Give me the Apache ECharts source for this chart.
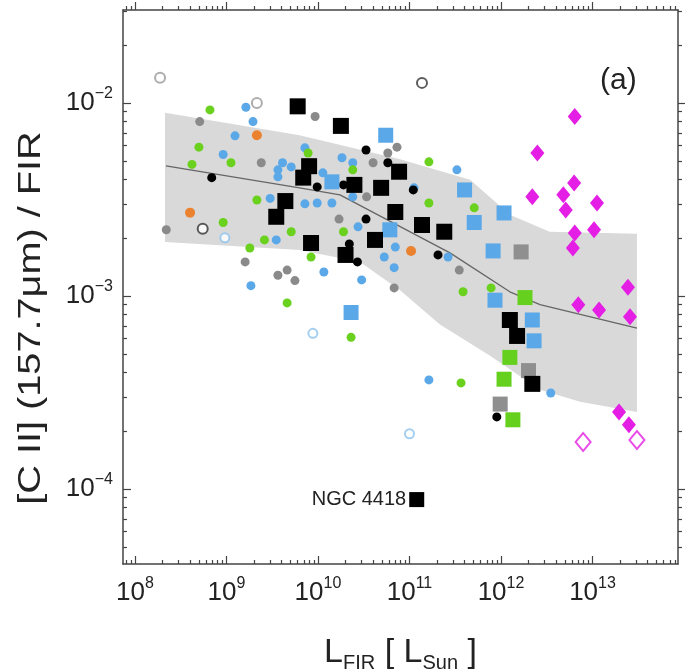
<!DOCTYPE html>
<html>
<head>
<meta charset="utf-8">
<script src="https://cdn.jsdelivr.net/npm/echarts@6/dist/echarts.min.js"></script>
<style>
  html, body { margin: 0; padding: 0; background: #fff; }
  #chart { width: 685px; height: 670px; }
</style>
</head>
<body>
<div id="chart"></div>
<script>
// axis ranges and tick labels
const xRange = [7.4e7, 8.6e13];
const yRange = [4.08e-5, 3.03e-2];
const xTicks = [1e8, 1e9, 1e10, 1e11, 1e12, 1e13];
const yTicks = [1e-4, 1e-3, 1e-2];

// [L_FIR, [CII]/FIR]
const blackSquares = [[6.0e9, 9.6e-3], [1.78e10, 7.6e-3], [8.0e9, 4.7e-3], [6.9e9, 4.1e-3], [4.4e9, 3.1e-3],
  [3.5e9, 2.57e-3], [8.4e9, 1.88e-3], [2.0e10, 1.63e-3], [4.2e10, 1.95e-3], [2.5e10, 3.76e-3], [4.9e10, 3.63e-3],
  [7.7e10, 4.4e-3], [7.0e10, 2.72e-3], [1.37e11, 2.33e-3], [2.4e11, 2.15e-3], [1.25e12, 7.5e-4], [1.5e12, 6.2e-4],
  [2.2e12, 3.5e-4]];
const ngc4418 = [[1.2e11, 8.8e-5]];
const blackDots = [[6.9e8, 4.1e-3], [3.35e10, 5.7e-3], [3.35e10, 2.5e-3], [2.7e10, 1.5e-3], [1.9e10, 3.76e-3],
  [9.8e9, 3.67e-3], [2.05e11, 1.63e-3], [1.1e11, 3.54e-3], [9.0e11, 2.36e-4], [2.2e10, 1.86e-3], [5.8e10, 4.9e-3]];
const graySquares = [[1.66e12, 1.69e-3], [9.8e11, 2.75e-4], [2.0e12, 4.1e-4]];
const grayDots = [[9.3e9, 8.5e-3], [5.8e10, 5.5e-3], [4.0e10, 4.9e-3], [7.3e10, 5.9e-3], [2.4e9, 4.9e-3],
  [2.2e8, 2.2e-3], [1.6e9, 1.5e-3], [3.65e9, 1.28e-3], [4.6e9, 1.36e-3], [5.6e9, 1.2e-3], [6.8e10, 1.1e-3],
  [1.7e10, 2.5e-3], [5.1e8, 8.0e-3], [3.4e10, 3.26e-3], [3.5e11, 1.36e-3]];
const blueSquares = [[5.5e10, 6.8e-3], [1.42e10, 3.9e-3], [4.0e11, 3.54e-3], [5.1e11, 2.4e-3], [1.08e12, 2.69e-3],
  [8.2e11, 1.71e-3], [8.6e11, 9.5e-4], [2.2e12, 7.5e-4], [2.3e12, 5.85e-4], [2.3e10, 8.2e-4], [6.1e10, 2.2e-3]];
const blueDots = [[1.63e9, 9.5e-3], [1.95e9, 8.0e-3], [1.24e9, 6.75e-3], [9.2e8, 5.4e-3], [3.65e9, 4.5e-3],
  [4.1e9, 4.9e-3], [3.0e9, 3.2e-3], [3.5e9, 1.95e-3], [7.2e9, 3.0e-3], [9.8e9, 3.03e-3], [1.42e10, 3.03e-3],
  [1.83e10, 5.2e-3], [2.4e10, 4.9e-3], [2.4e10, 3.26e-3], [1.13e10, 4.34e-3], [2.74e10, 2.28e-3], [1.12e11, 3.63e-3],
  [3.3e11, 4.5e-3], [2.64e11, 1.59e-3], [5.3e10, 1.59e-3], [7.0e10, 1.79e-3], [1.16e10, 1.33e-3], [3.0e10, 1.21e-3],
  [6.8e10, 1.4e-3], [1.85e9, 1.13e-3], [1.63e11, 3.67e-4], [3.5e12, 3.14e-4], [7.2e9, 5.85e-3], [5.1e9, 4.66e-3],
  [3.65e9, 4.14e-3]];
const greenSquares = [[1.83e12, 9.8e-4], [1.25e12, 4.8e-4], [1.08e12, 3.7e-4], [1.35e12, 2.28e-4]];
const greenDots = [[6.6e8, 9.2e-3], [5.0e8, 5.9e-3], [4.2e8, 4.8e-3], [1.12e9, 4.9e-3], [7.8e9, 5.5e-3],
  [2.4e10, 4.5e-3], [2.15e9, 3.14e-3], [9.2e8, 2.4e-3], [5.1e9, 2.15e-3], [2.6e9, 1.95e-3], [1.8e9, 1.77e-3],
  [8.4e9, 1.59e-3], [1.9e10, 2.15e-3], [4.6e9, 9.2e-4], [2.3e10, 6.1e-4], [1.63e11, 4.95e-3], [5.1e11, 2.86e-3],
  [1.63e11, 3.03e-3], [3.85e11, 1.05e-3], [7.8e11, 1.1e-3], [3.66e11, 3.54e-4]];
const orangeDots = [[2.15e9, 6.8e-3], [4.0e8, 2.7e-3], [1.04e11, 1.71e-3]];
const openGray = [[1.88e8, 1.35e-2], [2.15e9, 1.0e-2]];
const openBlack = [[1.37e11, 1.27e-2], [5.5e8, 2.23e-3]];
const openBlue = [[9.6e8, 2.0e-3], [8.8e9, 6.4e-4], [1.0e11, 1.93e-4]];
const magentaDiamonds = [[6.4e12, 8.5e-3], [2.5e12, 5.5e-3], [6.3e12, 3.85e-3], [2.2e12, 3.26e-3], [4.8e12, 3.34e-3],
  [1.12e13, 3.03e-3], [5.1e12, 2.79e-3], [6.4e12, 2.12e-3], [1.04e13, 2.2e-3], [6.1e12, 1.77e-3], [2.44e13, 1.11e-3],
  [7.0e12, 9.0e-4], [1.18e13, 8.45e-4], [2.57e13, 7.8e-4], [1.95e13, 2.5e-4], [2.5e13, 2.15e-4]];
const openDiamonds = [[7.9e12, 1.75e-4], [3.06e13, 1.79e-4]];

// shaded band and fit
const bandUpper = [[2.13e8, 8.9e-3], [6.3e9, 6.8e-3], [7.9e10, 5.1e-3], [4.6e11, 4.0e-3], [1.25e12, 2.63e-3],
  [3.4e12, 2.15e-3], [3.06e13, 2.1e-3]];
const bandLower = [[2.13e8, 1.9e-3], [6.3e9, 1.73e-3], [2.88e10, 1.5e-3], [7.9e10, 1.07e-3], [2.15e11, 7.1e-4],
  [7.6e11, 4.9e-4], [2.67e12, 3.26e-4], [7.3e12, 2.83e-4], [3.06e13, 2.5e-4]];
const fitLine = [[2.18e8, 4.72e-3], [6.3e9, 3.63e-3], [1.74e10, 3.34e-3], [2.77e11, 1.67e-3], [1.25e12, 1.05e-3],
  [2.67e12, 9.0e-4], [3.06e13, 6.8e-4]];

const font = 'Liberation Sans, Arial, Helvetica, sans-serif';
const ink = '#222';
const frame = '#444';

function minorValues(range) {
  const out = [];
  const e0 = Math.floor(Math.log10(range[0]));
  const e1 = Math.ceil(Math.log10(range[1]));
  for (let e = e0; e <= e1; e++) {
    for (let m = 2; m <= 9; m++) {
      const v = m * Math.pow(10, e);
      if (v > range[0] && v < range[1]) out.push(v);
    }
  }
  return out;
}

function powLabel(v) {
  const e = Math.round(Math.log10(v));
  return '{b|10}{s|' + (e < 0 ? '\u2212' + (-e) : e) + '}';
}

const labelRich = {
  b: { fontSize: 26, fontFamily: font, color: ink, lineHeight: 34 },
  s: { fontSize: 16, fontFamily: font, color: ink, verticalAlign: 'top', lineHeight: 16 }
};

// one axis per side and tick size: major ticks (with line/labels) and minor ticks
// note: on the top/right axes inside:false is what puts the ticks into the plot
function makeAxis(position, range, ticks, minor, withLabel, inside) {
  return {
    type: 'log',
    logBase: 10,
    position: position,
    min: range[0],
    max: range[1],
    axisLine: { show: !minor, onZero: false, lineStyle: { color: frame, width: 1.5 } },
    axisTick: {
      show: true, inside: inside, length: minor ? 4 : 8,
      customValues: minor ? minorValues(range) : ticks,
      lineStyle: { color: frame, width: 1.2 }
    },
    axisLabel: withLabel ? {
      show: true, customValues: ticks, formatter: powLabel, rich: labelRich, margin: 10
    } : { show: false },
    splitLine: { show: false },
    minorTick: { show: false },
    minorSplitLine: { show: false }
  };
}

const xMain = makeAxis('bottom', xRange, xTicks, false, true, true);
xMain.axisLabel.margin = 12;
xMain.name = '{t|L}{u|FIR}{t| [ L}{u|Sun}{t| ]}';
xMain.nameLocation = 'middle';
xMain.nameGap = 69;
xMain.nameTextStyle = {
  rich: {
    t: { fontSize: 34, fontFamily: font, color: ink, lineHeight: 40 },
    u: { fontSize: 20, fontFamily: font, color: ink, verticalAlign: 'bottom', lineHeight: 20 }
  }
};

const yMain = makeAxis('left', yRange, yTicks, false, true, true);

function scatter(name, data, symbol, size, color, extra) {
  return Object.assign({
    name: name, type: 'scatter', data: data, symbol: symbol, symbolSize: size,
    itemStyle: { color: color, opacity: 1 }
  }, extra || {});
}

const openStyle = (c) => ({ itemStyle: { color: c, borderColor: c, borderWidth: 1.5 } });

const bandPoly = bandUpper.concat(bandLower.slice().reverse());

const chart = echarts.init(document.getElementById('chart'), null, { renderer: 'canvas' });
chart.setOption({
  animation: false,
  backgroundColor: '#fff',
  title: {
    text: '(a)', left: 595, top: 61,
    textStyle: { fontSize: 30, fontWeight: 'normal', fontFamily: font, color: ink }
  },
  graphic: [{
    // y axis title, stretched along its length like the original
    type: 'text', x: 31, y: 318, rotation: Math.PI / 2, scaleX: 1.28,
    style: {
      text: '[C II] (157.7\u03bcm) / FIR', font: '31px ' + font, fill: ink,
      align: 'center', verticalAlign: 'middle', textAlign: 'center', textVerticalAlign: 'middle'
    }
  }],
  grid: { left: 123, right: 7, top: 10, bottom: 106, outerBoundsMode: 'none' },
  xAxis: [
    xMain,
    makeAxis('bottom', xRange, xTicks, true, false, true),
    makeAxis('top', xRange, xTicks, false, false, false),
    makeAxis('top', xRange, xTicks, true, false, false)
  ],
  yAxis: [
    yMain,
    makeAxis('left', yRange, yTicks, true, false, true),
    makeAxis('right', yRange, yTicks, false, false, false),
    makeAxis('right', yRange, yTicks, true, false, false)
  ],
  series: [
    {
      name: 'band', type: 'custom', silent: true, z: 1,
      data: bandPoly,
      renderItem: function (params, api) {
        if (params.dataIndex !== 0) return null;
        return {
          type: 'polygon',
          shape: { points: bandPoly.map(p => api.coord(p)) },
          style: { fill: '#d9d9d9' }
        };
      }
    },
    {
      name: 'fit', type: 'line', data: fitLine, symbol: 'none', z: 2, silent: true,
      lineStyle: { color: '#666', width: 1.3 }
    },
    scatter('openGray', openGray, 'emptyCircle', 10, '#999', openStyle('#999')),
    scatter('openBlack', openBlack, 'emptyCircle', 10, '#333', openStyle('#333')),
    scatter('openBlue', openBlue, 'emptyCircle', 9, '#8fc3ee', openStyle('#8fc3ee')),
    scatter('grayDots', grayDots, 'circle', 9, '#8a8a8a'),
    scatter('blueDots', blueDots, 'circle', 9, '#5aa8e8'),
    scatter('greenDots', greenDots, 'circle', 9, '#6ad11f'),
    scatter('orangeDots', orangeDots, 'circle', 10, '#ea8230'),
    scatter('blackDots', blackDots, 'circle', 9, '#000'),
    scatter('graySquares', graySquares, 'rect', 15, '#8f8f8f'),
    scatter('blueSquares', blueSquares, 'rect', 15, '#5aa8e8'),
    scatter('greenSquares', greenSquares, 'rect', 15, '#66d01e'),
    scatter('blackSquares', blackSquares, 'rect', 16, '#000'),
    scatter('NGC 4418', ngc4418, 'rect', 15, '#000', {
      label: {
        show: true, position: 'left', distance: 3, formatter: 'NGC 4418',
        fontSize: 20, fontFamily: font, color: ink
      }
    }),
    scatter('magenta', magentaDiamonds, 'diamond', [14, 17], '#e41ee4'),
    scatter('openMagenta', openDiamonds, 'emptyDiamond', [15, 18], '#e41ee4', openStyle('#e41ee4'))
  ]
});
</script>
</body>
</html>
